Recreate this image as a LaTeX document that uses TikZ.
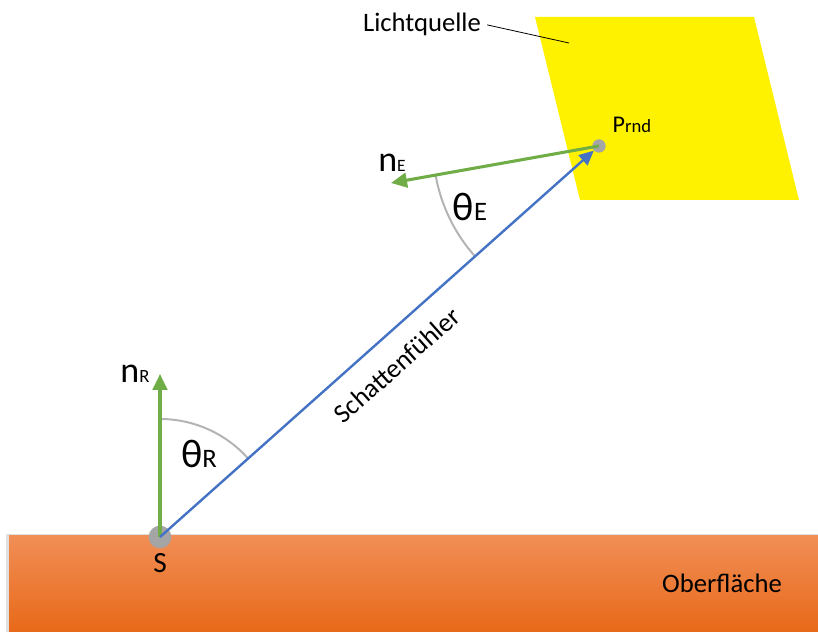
\documentclass[tikz,border=0pt]{standalone}
\usepackage{fontspec}
\setmainfont{Carlito}
\usetikzlibrary{arrows.meta}
\definecolor{offgreen}{HTML}{70AD47}
\definecolor{offblue}{HTML}{4472C4}
\definecolor{dotgray}{HTML}{A5A5A5}
\definecolor{arcgray}{HTML}{B4B4B4}
\definecolor{oratop}{RGB}{241,142,86}
\definecolor{orabot}{RGB}{232,105,25}
\newcommand\myfs[1]{\fontsize{#1}{#1}\selectfont}
\tikzset{
  dot/.style={circle,fill=dotgray,inner sep=0pt,minimum size=#1},
  normalarrow/.style={draw=offgreen,line width=2.3pt,-{Triangle[length=12pt,width=11pt]}},
  rayarrow/.style={draw=offblue,line width=1.8pt,-{Triangle[length=11pt,width=10pt]}},
  anglearc/.style={draw=arcgray,line width=1.5pt},
  lbl/.style={inner sep=0pt,anchor=base,text=black},
}
\begin{document}
\begin{tikzpicture}[x=0.75pt,y=0.75pt]
\useasboundingbox (0,0) rectangle (818,632);
% surface with faint shadow
\fill[black!12] (6,-2) rectangle (818,98);
\shade[top color=oratop,bottom color=orabot] (9,0) rectangle (818,96);
% light source
\fill[yellow] (535,615) -- (754,615) -- (799,432) -- (580,432) -- cycle;
% points
\node[dot=17pt] (S) at (160,95) {};
\node[dot=10pt] (P) at (599,486) {};
\coordinate (nRtip) at (160,258);
\coordinate (nEtip) at (391,449);
% arcs
\draw[anglearc] (S.center) ++(90:118) arc[start angle=90,end angle=41.69,radius=118];
\draw[anglearc] (P.center) ++(190.18:166) arc[start angle=190.18,end angle=221.69,radius=166];
% vectors
\draw[normalarrow] (S.center) -- (nRtip);
\draw[normalarrow] (P.center) -- (nEtip);
\draw[rayarrow] (S.center) -- (P);
% labels
\node[lbl] (nR) at (135,249) {\myfs{27}n\myfs{14}R};
\node[lbl] (nE) at (392,460) {\myfs{27}n\myfs{13}E};
\node[lbl] (thR) at (199,164) {\myfs{30}θ\myfs{20}R};
\node[lbl] (thE) at (470,411) {\myfs{30}θ\myfs{20}E};
\node[lbl] (Prnd) at (632,499) {\myfs{18}P\myfs{14}rnd};
\node[lbl] (Slbl) at (160,59) {\myfs{22}S};
\node[lbl] (surf) at (722,39) {\myfs{20}Oberfläche};
\node[lbl] (light) at (422,600) {\myfs{20}Lichtquelle};
\node[inner sep=0pt,rotate=41.69,text=black] (probe) at (397,267) {\myfs{20}Schattenfühler};
\coordinate (leadend) at (569,589);
\draw[black,line width=0.6pt] (light.east) ++(6,0) -- (leadend);
\end{tikzpicture}
\end{document}
